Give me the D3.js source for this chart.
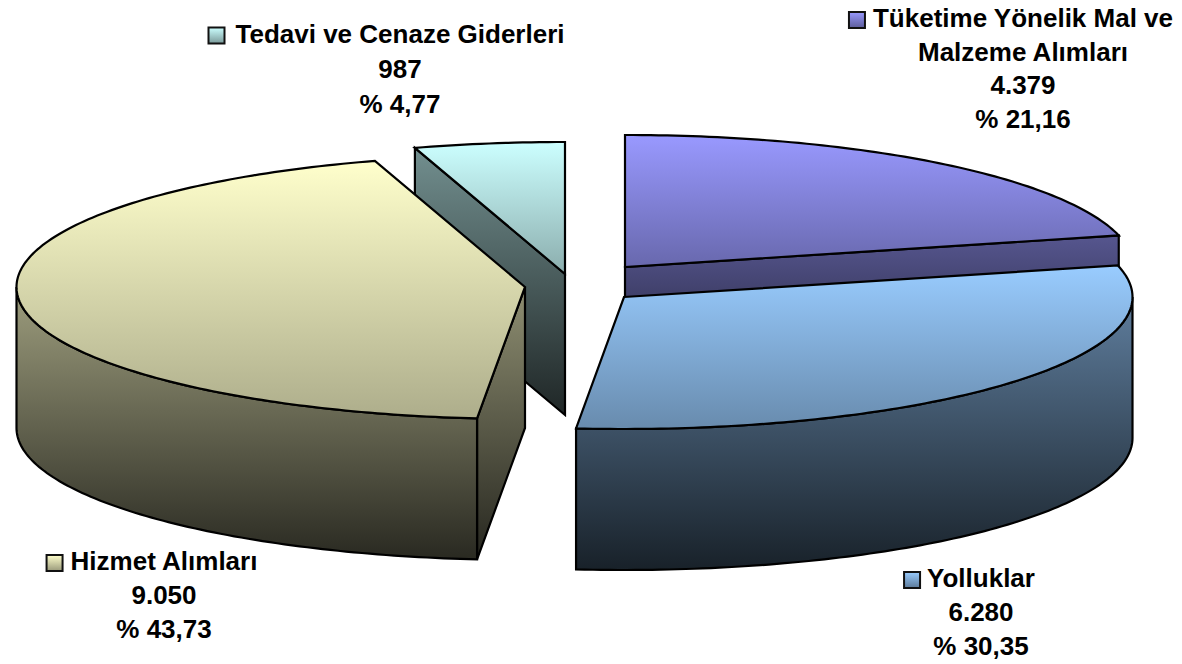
<!DOCTYPE html>
<html><head><meta charset="utf-8">
<script src="https://cdn.jsdelivr.net/npm/d3@7"></script>
<style>html,body{margin:0;padding:0;background:#fff}svg{display:block}</style>
</head><body><svg id="c" width="1182" height="664"></svg>
<script>
const categories = ["Tüketime Yönelik Mal ve\nMalzeme Alımları", "Yolluklar", "Hizmet Alımları", "Tedavi ve Cenaze Giderleri"];
const values = [4379, 6280, 9050, 987];
const valueLabels = ["4.379", "6.280", "9.050", "987"];
const percentLabels = ["% 21,16", "% 30,35", "% 43,73", "% 4,77"];

// styling / layout (not data)
const baseColors = ["#9999ff", "#99ccff", "#ffffcc", "#ccffff"];
const explode = [[0, 0], [-1, 30], [-100, 20], [-60, 7]];
const center = {x: 625, y: 267}, rx = 508.5, ry = 132, depth = 141;
const labelPos = [
  {cx: 1023, base: 27, step: 33.7, gap: 8},
  {cx: 981, base: 587, step: 34, gap: 7},
  {cx: 164, base: 570, step: 34, gap: 8},
  {cx: 400, base: 42.5, step: 35, gap: 11}
];
const fontSize = 26;

const svg = d3.select("#c");
const defs = svg.append("defs");
const arcs = d3.pie().sort(null).value(d => d).startAngle(0).endAngle(2 * Math.PI)(values);
const sx = d3.scaleLinear().domain([-1, 1]).range([center.x - rx, center.x + rx]);
const sy = d3.scaleLinear().domain([-1, 1]).range([center.y - ry, center.y + ry]);
const line = d3.line();
const pt = (i, a, dz = 0) => [sx(Math.sin(a)) + explode[i][0], sy(-Math.cos(a)) + explode[i][1] + dz];
const apex = (i, dz = 0) => [center.x + explode[i][0], center.y + explode[i][1] + dz];
const arcPts = (i, a0, a1, dz = 0) => {
  const n = Math.max(8, Math.ceil(Math.abs(a1 - a0) * 60));
  return d3.range(n + 1).map(k => pt(i, a0 + (a1 - a0) * k / n, dz));
};
const scaled = (hex, f) => { const c = d3.rgb(hex); return d3.rgb(c.r * f, c.g * f, c.b * f).formatHex(); };
function grad(id, y1, y2, c1, c2) {
  const g = defs.append("linearGradient").attr("id", id).attr("gradientUnits", "userSpaceOnUse")
    .attr("x1", 0).attr("x2", 0).attr("y1", y1).attr("y2", y2);
  g.append("stop").attr("offset", 0).attr("stop-color", c1);
  g.append("stop").attr("offset", 1).attr("stop-color", c2);
  return `url(#${id})`;
}
const draw = (pts, fill, sw = 2.2) => svg.append("path").attr("d", line(pts) + "Z").attr("fill", fill)
  .attr("stroke", "#000").attr("stroke-width", sw).attr("stroke-linejoin", "miter");
const yExt = pts => d3.extent(pts, p => p[1]);

function cutWall(i, a) {           // radial cut face at angle a
  const pts = [apex(i), pt(i, a), pt(i, a, depth), apex(i, depth)];
  const [y0, y1] = yExt(pts);
  draw(pts, grad("w" + i + "c" + Math.round(a * 100), y0, y1, scaled(baseColors[i], 0.56), scaled(baseColors[i], 0.15)));
}
function outerWall(i, a0, a1) {    // curved rim between two angles
  const top = arcPts(i, a0, a1), bot = arcPts(i, a0, a1, depth).reverse();
  const pts = top.concat(bot);
  const [y0, y1] = yExt(pts);
  draw(pts, grad("w" + i + "o", y0, y1, scaled(baseColors[i], 0.62), scaled(baseColors[i], 0.16)));
}
function topFace(i) {
  const a = arcs[i];
  const pts = [apex(i)].concat(arcPts(i, a.startAngle, a.endAngle));
  const [y0, y1] = yExt(pts);
  draw(pts, grad("t" + i, y0, y1, baseColors[i], scaled(baseColors[i], 0.68)));
}

// painter's order: back pieces first
cutWall(3, arcs[3].startAngle); topFace(3);
cutWall(0, arcs[0].endAngle);   topFace(0);
outerWall(1, Math.PI / 2, arcs[1].endAngle); topFace(1);
cutWall(2, arcs[2].startAngle);
outerWall(2, arcs[2].startAngle, 1.5 * Math.PI); topFace(2);

// labels
categories.forEach((name, i) => {
  const lines = name.split("\n").concat([valueLabels[i], percentLabels[i]]);
  const p = labelPos[i];
  const t = svg.append("g").attr("font-family", "'Liberation Sans',Arial,sans-serif")
    .attr("font-weight", 700).attr("font-size", fontSize).attr("fill", "#000").attr("text-anchor", "middle");
  const nodes = lines.map((s, k) => t.append("text").attr("x", p.cx).attr("y", p.base + k * p.step).text(s));
  const bb = nodes[0].node().getBBox();
  const sz = 16, y = p.base - 15;
  svg.append("rect").attr("x", bb.x - sz - p.gap).attr("y", y).attr("width", sz).attr("height", sz)
    .attr("fill", grad("sw" + i, y, y + sz, baseColors[i], scaled(baseColors[i], 0.6)))
    .attr("stroke", "#111").attr("stroke-width", 2);
});
</script></body></html>
